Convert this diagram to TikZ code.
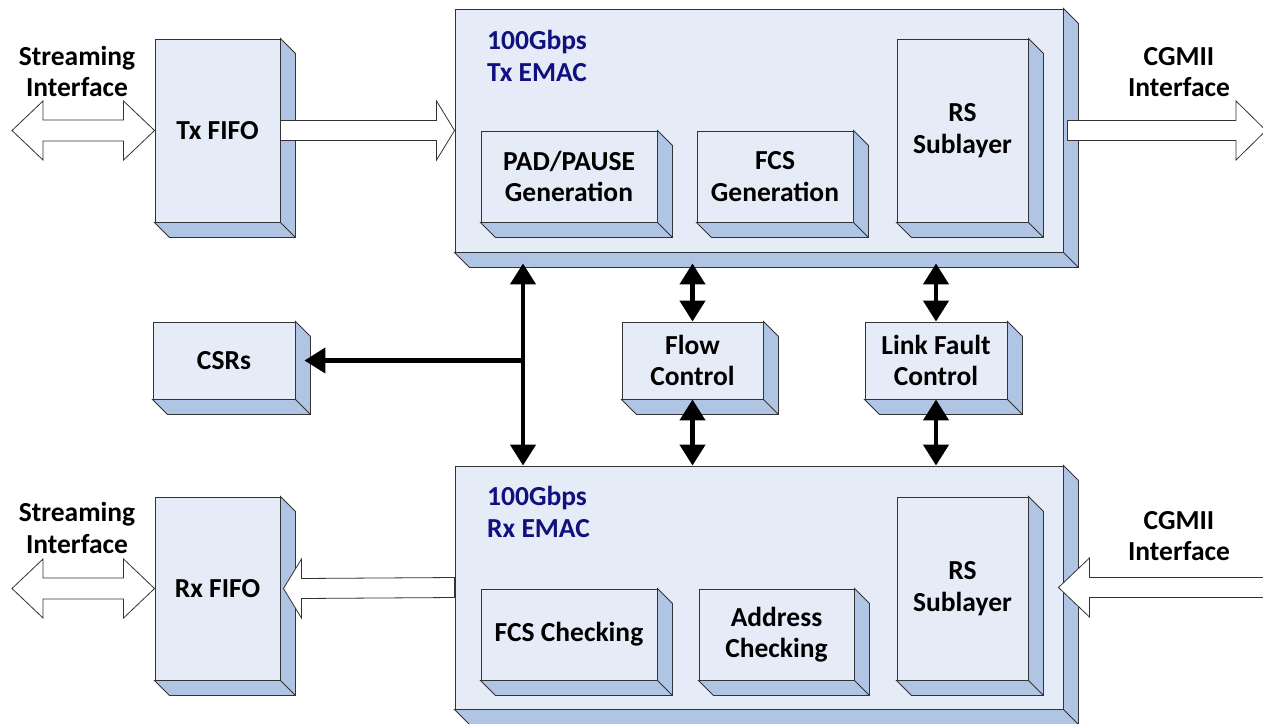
\documentclass[tikz,border=0pt]{standalone}
\usepackage{fontspec}
\setmainfont{Carlito}
\usepackage{xcolor}
\usetikzlibrary{arrows.meta, calc, positioning}

\definecolor{frontblue}{HTML}{E6ECF7}
\definecolor{sideblue}{HTML}{B0C4E4}
\definecolor{titleblue}{HTML}{10107F}

\tikzset{
  block/.style = {draw=black!80, fill=frontblue, line width=0.9pt, inner sep=0pt,
                  align=center, font=\bfseries\fontsize{27.5}{31.5}\selectfont},
  dims/.style 2 args = {minimum width=#1, minimum height=#2},
  sideface/.style = {draw=black!80, fill=sideblue, line width=0.9pt, line join=miter},
  hollow/.style = {draw=black!80, fill=white, line width=0.8pt, line join=miter},
  txt/.style = {align=center, font=\bfseries\fontsize{27.5}{31.5}\selectfont},
  title/.style = {anchor=west, align=left, text=titleblue, inner sep=0pt,
                  font=\bfseries\fontsize{27.5}{32}\selectfont},
  dbl/.style = {line width=4.5pt, {Triangle[length=21pt,width=25pt]}-{Triangle[length=21pt,width=25pt]}},
  sgl/.style = {line width=4.5pt, -{Triangle[length=21pt,width=25pt]}}
}

% hollow block arrows: tail, tip, signed head length
\newcommand{\fatarrow}[3]{%
  \draw[hollow] ($(#1)+(0,-10)$) -- ($(#2)+(#3,-10)$) -- ($(#2)+(#3,-29.5)$) -- (#2)
    -- ($(#2)+(#3,29.5)$) -- ($(#2)+(#3,10)$) -- ($(#1)+(0,10)$) -- cycle;}
\newcommand{\fatdarrow}[3]{%
  \draw[hollow] (#1) -- ($(#1)+(#3,-29.5)$) -- ($(#1)+(#3,-10.5)$) -- ($(#2)+(-#3,-10.5)$)
    -- ($(#2)+(-#3,-29.5)$) -- (#2) -- ($(#2)+(-#3,29.5)$) -- ($(#2)+(-#3,10.5)$)
    -- ($(#1)+(#3,10.5)$) -- ($(#1)+(#3,29.5)$) -- cycle;}

\begin{document}
\begin{tikzpicture}[x=1pt, y=-1pt]
  \fill[white] (0,0) rectangle (1263,723);
  \useasboundingbox (0,0) rectangle (1263,723);

  % EMAC blocks
  \node[block, dims={608}{243}] (txmac) at (759,130.5) {};
  \node[block, dims={608}{243}] (rxmac) at (759,587.5) {};
  \node[title] (txtitle) at (487,56) {100Gbps\\Tx EMAC};
  \node[title] (rxtitle) at (487,512) {100Gbps\\Rx EMAC};

  % inner blocks
  \node[block, dims={176}{91}]  (padgen)  at (569,176.5)   {PAD/PAUSE\\Generation};
  \node[block, dims={156}{91}]  (fcsgen)  at (775,176.5)   {FCS\\Generation};
  \node[block, dims={131}{183}] (txrs)    at (962.5,130.5) {RS\\Sublayer};
  \node[block, dims={176}{91}]  (fcschk)  at (569,634.5)   {FCS Checking};
  \node[block, dims={155}{91}]  (addrchk) at (776.5,634.5) {Address\\Checking};
  \node[block, dims={131}{183}] (rxrs)    at (962.5,588.5) {RS\\Sublayer};

  % side blocks
  \node[block, dims={125}{183}] (txfifo)    at (217.5,130.5) {Tx FIFO};
  \node[block, dims={125}{183}] (rxfifo)    at (217.5,588.5) {Rx FIFO};
  \node[block, dims={142}{77}]  (csrs)      at (224,360.5)   {CSRs};
  \node[block, dims={141}{77}]  (flow)      at (692.5,360.5) {Flow\\Control};
  \node[block, dims={142}{77}]  (linkfault) at (936,360.5)   {Link Fault\\Control};

  % depth faces
  \foreach \n in {txmac, rxmac, padgen, fcsgen, txrs, fcschk, addrchk, rxrs,
                  txfifo, rxfifo, csrs, flow, linkfault}
    \draw[sideface] (\n.north east) -- ++(15,15) -- ($(\n.south east)+(15,15)$)
        -- ($(\n.south west)+(15,15)$) -- (\n.south west) -- (\n.south east) -- cycle
        (\n.south east) -- ++(15,15);

  % interface labels
  \node[txt] (txstream) at (77,71.5)   {Streaming\\Interface};
  \node[txt] (rxstream) at (77,528)    {Streaming\\Interface};
  \node[txt] (txcgmii)  at (1179,72)   {CGMII\\Interface};
  \node[txt] (rxcgmii)  at (1179,536)  {CGMII\\Interface};

  \coordinate (txuser) at (12,130.5);
  \coordinate (rxuser) at (12,588.5);
  \coordinate (txphy)  at (1266,130.5);
  \coordinate (rxphy)  at (1272,587.5);
  \coordinate (txbase) at ($(txmac.south)+(0,11)$);
  \coordinate (bus)    at (523,360.5);

  % data path
  \fatdarrow{txuser}{txfifo.west}{31}
  \fatdarrow{rxuser}{rxfifo.west}{31}
  \fatarrow{txfifo.east}{txmac.west}{-18}
  \fatarrow{$(txmac.east)+(4,0)$}{txphy}{-30}
  \fatarrow{rxmac.west}{$(rxfifo.east)+(3,0)$}{18}
  \fatarrow{rxphy}{$(rxmac.east)+(-5,0)$}{31}

  % control paths
  \path[dbl] (bus |- txbase)       edge (bus |- rxmac.north)
             (flow.north |- txbase) edge (flow.north)
             (flow.south)           edge (flow.south |- rxmac.north)
             (linkfault.north |- txbase) edge (linkfault.north)
             (linkfault.south)      edge (linkfault.south |- rxmac.north);
  \draw[sgl] (bus) -- ($(csrs.east)+(9,0)$);
\end{tikzpicture}
\end{document}
